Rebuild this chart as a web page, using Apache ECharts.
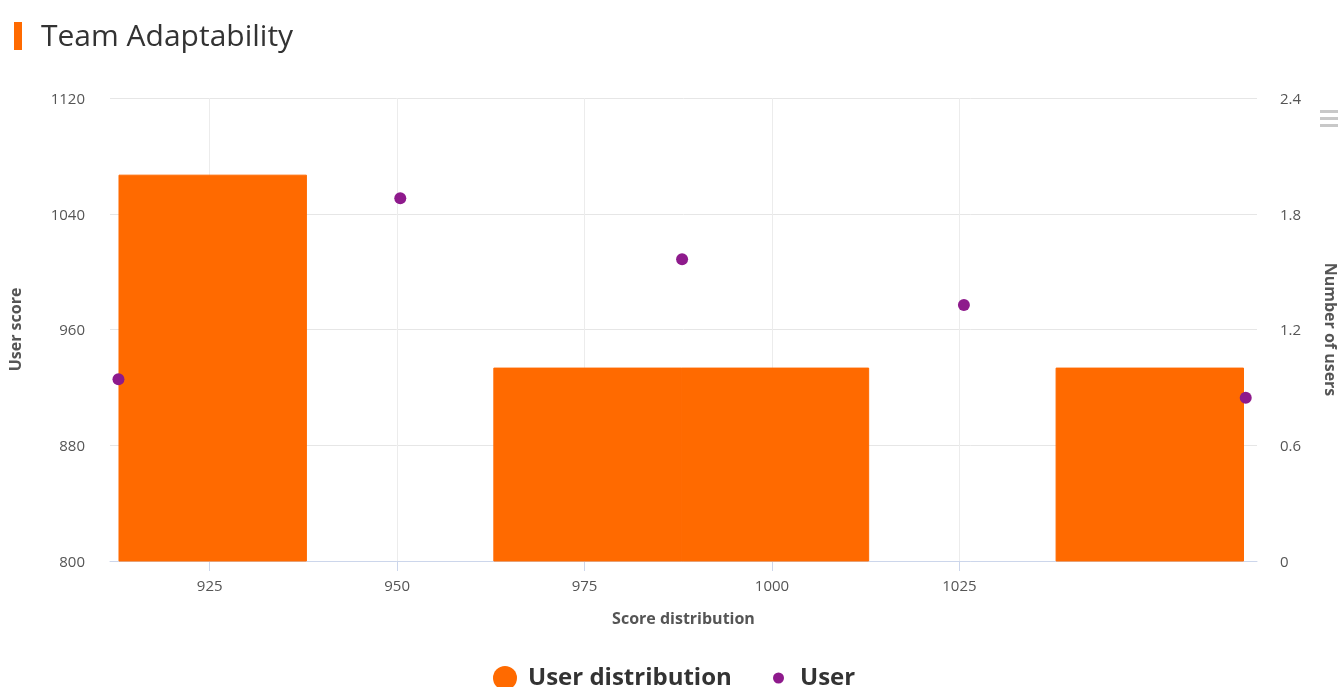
<!DOCTYPE html>
<html>
<head>
<meta charset="utf-8">
<title>Team Adaptability</title>
<script src="https://cdn.jsdelivr.net/npm/echarts@6/dist/echarts.min.js"></script>
<style>
  html, body { margin: 0; padding: 0; background: #fff; }
  #chart { width: 1338px; height: 687px; }
</style>
</head>
<body>
<div id="chart"></div>
<script>
// Individual user scores, in user order
const userScores = [925.6, 1050.7, 1008.5, 976.9, 912.9];

// Histogram bins of the scores: lower edge, width and user count per bin
const binStart = 912.9;
const binWidth = 25;
const binCounts = [2, 0, 1, 1, 0, 1];

// Tick values
const scoreTicks = [925, 950, 975, 1000, 1025];

const ORANGE = '#ff6a00';
const PURPLE = '#8e1a8c';
const FONT = '"Open Sans", "Noto Sans", sans-serif';

const binData = binCounts.map((c, i) => [binStart + i * binWidth, binStart + (i + 1) * binWidth, c]);
const userData = userScores.map((v, i) => [i, v]);

const chart = echarts.init(document.getElementById('chart'), null, { renderer: 'canvas' });

const legendText = { fontFamily: FONT, fontSize: 24, fontWeight: 'bold', color: '#333', padding: [0, 0, 0, 6] };

chart.setOption({
  animation: false,
  textStyle: { fontFamily: FONT },
  title: {
    text: 'Team Adaptability',
    left: 36, top: 17,
    textStyle: { fontFamily: FONT, fontSize: 30, fontWeight: 'normal', color: '#333' }
  },
  legend: [
    {
      left: 493, top: 666, padding: 0,
      itemWidth: 24, itemHeight: 24,
      textStyle: legendText,
      data: [{ name: 'User distribution', icon: 'circle', itemStyle: { color: ORANGE } }]
    },
    {
      left: 773, top: 666, padding: 0,
      itemWidth: 11, itemHeight: 24,
      textStyle: Object.assign({}, legendText, { padding: [0, 0, 0, 11] }),
      data: [{ name: 'User', icon: 'circle', itemStyle: { color: PURPLE } }]
    }
  ],
  grid: { left: 110, right: 81, top: 98, bottom: 126, containLabel: false, outerBoundsMode: 'none' },
  xAxis: [
    {
      type: 'value', min: 911.7, max: 1064.7,
      name: 'Score distribution', nameLocation: 'middle', nameGap: 50,
      nameTextStyle: { fontFamily: FONT, fontSize: 16, fontWeight: 'bold', color: '#555' },
      axisLine: { show: true, lineStyle: { color: '#ccd6eb' } },
      axisTick: { show: true, length: 10, lineStyle: { color: '#ccd6eb' }, customValues: scoreTicks },
      axisLabel: { customValues: scoreTicks, margin: 18, fontSize: 15, color: '#555', fontFamily: FONT,
        formatter: v => String(v) },
      splitLine: { show: true, lineStyle: { color: '#ececec' } }
    },
    {
      type: 'value', min: -0.03, max: 4.04, show: false
    }
  ],
  yAxis: [
    {
      type: 'value', min: 800, max: 1120, interval: 80,
      name: 'User score', nameLocation: 'middle', nameGap: 86, nameRotate: 90,
      nameTextStyle: { fontFamily: FONT, fontSize: 16, fontWeight: 'bold', color: '#555' },
      axisLine: { show: false }, axisTick: { show: false },
      axisLabel: { margin: 25, fontSize: 15, color: '#555', fontFamily: FONT, formatter: v => String(v),
        verticalAlign: 'top', padding: [-6, 0, 0, 0] },
      splitLine: { show: true, lineStyle: { color: '#e6e6e6' } }
    },
    {
      type: 'value', min: 0, max: 2.4, interval: 0.6, position: 'right',
      name: 'Number of users', nameLocation: 'middle', nameGap: 65, nameRotate: -90,
      nameTextStyle: { fontFamily: FONT, fontSize: 16, fontWeight: 'bold', color: '#555' },
      axisLine: { show: false }, axisTick: { show: false },
      axisLabel: { margin: 23, fontSize: 15, color: '#555', fontFamily: FONT,
        verticalAlign: 'top', padding: [-6, 0, 0, 0],
        formatter: v => String(Math.round(v * 10) / 10) },
      splitLine: { show: false }
    }
  ],
  series: [
    {
      name: 'User distribution',
      type: 'custom',
      xAxisIndex: 0, yAxisIndex: 1,
      data: binData,
      encode: { x: [0, 1], y: 2 },
      renderItem: function (params, api) {
        const count = api.value(2);
        if (!count) return null;
        const p0 = api.coord([api.value(0), 0]);
        const p1 = api.coord([api.value(1), count]);
        return {
          type: 'rect',
          shape: { x: p0[0], y: p1[1], width: p1[0] - p0[0], height: p0[1] - p1[1] },
          style: { fill: ORANGE, stroke: ORANGE, lineWidth: 1 }
        };
      },
      itemStyle: { color: ORANGE },
      z: 2
    },
    {
      name: 'User',
      type: 'scatter',
      xAxisIndex: 1, yAxisIndex: 0,
      data: userData,
      symbol: 'circle', symbolSize: 12,
      itemStyle: { color: PURPLE, opacity: 1 },
      z: 5
    }
  ],
  graphic: [
    { type: 'rect', left: 14, top: 22, shape: { width: 8, height: 28 }, style: { fill: ORANGE } },
    { type: 'rect', left: 1320, top: 110, shape: { width: 18, height: 3 }, style: { fill: '#c8c8c8' } },
    { type: 'rect', left: 1320, top: 117, shape: { width: 18, height: 3 }, style: { fill: '#c8c8c8' } },
    { type: 'rect', left: 1320, top: 124, shape: { width: 18, height: 3 }, style: { fill: '#c8c8c8' } }
  ]
});
</script>
</body>
</html>
